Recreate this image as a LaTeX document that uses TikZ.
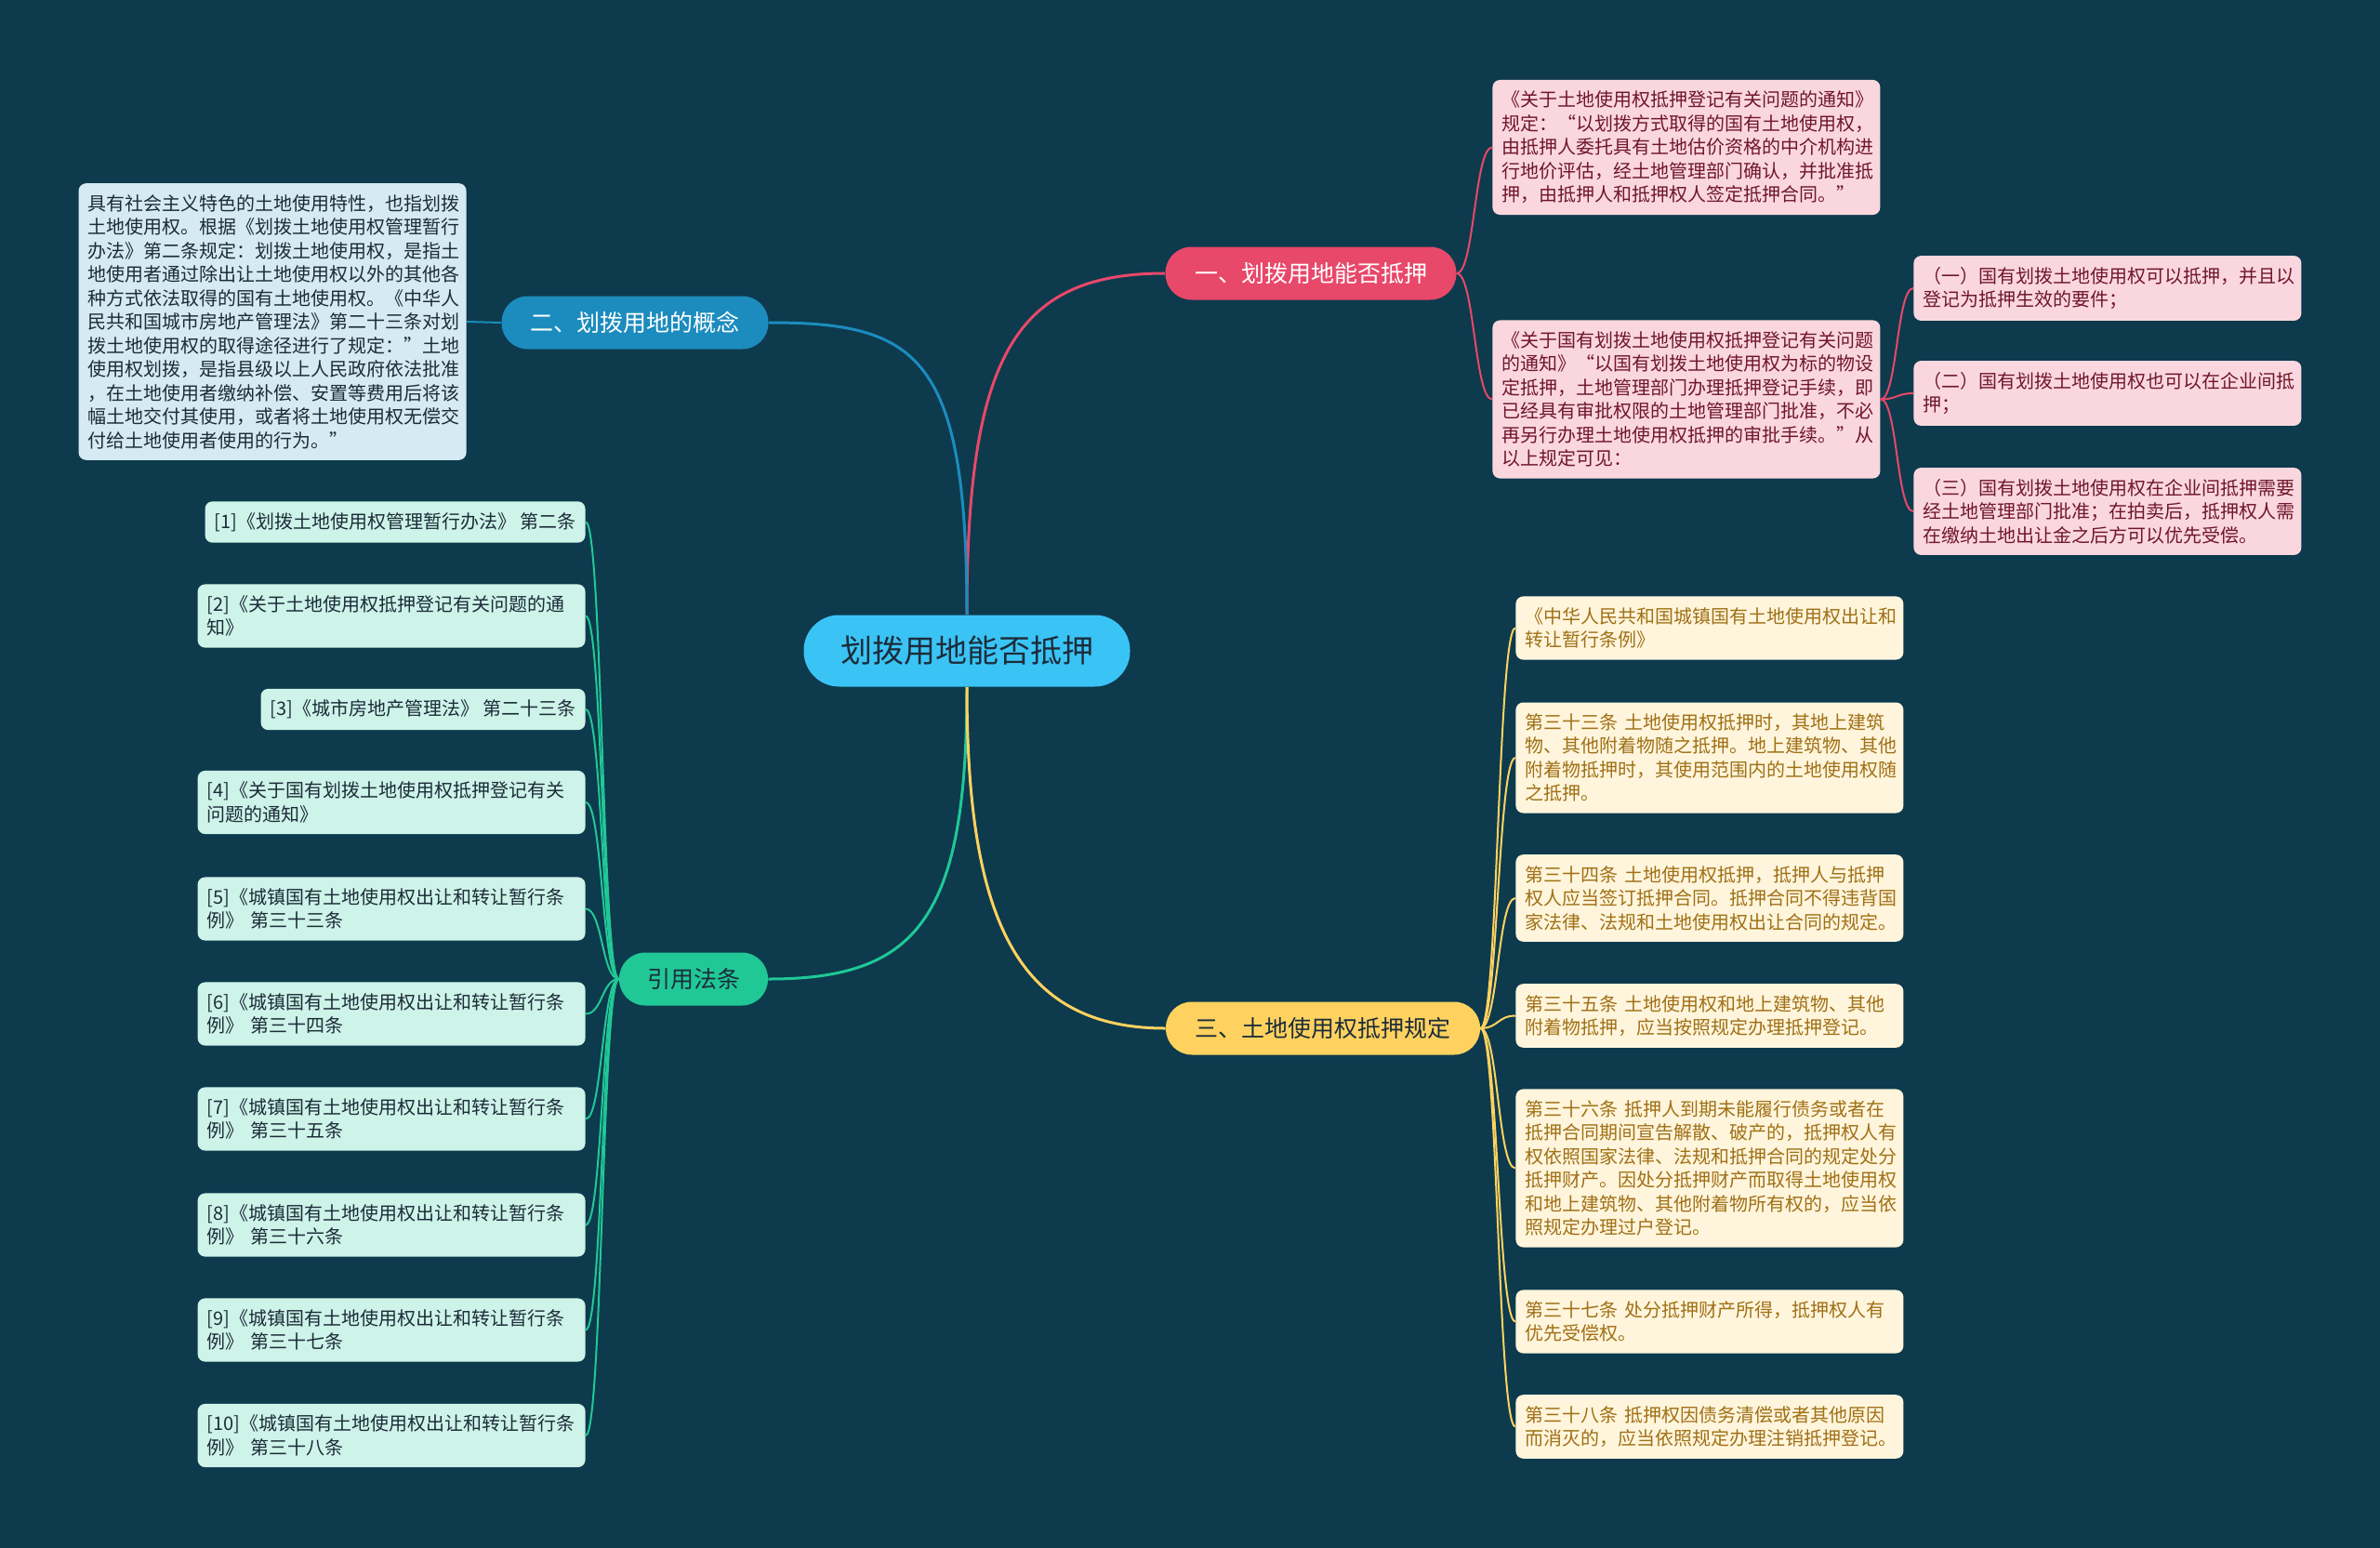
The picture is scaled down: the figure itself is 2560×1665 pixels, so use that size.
\documentclass[tikz,border=0pt]{standalone}
\usepackage{fontspec}
\setmainfont{Noto Sans CJK SC}
\usetikzlibrary{positioning}
\definecolor{night}{RGB}{13,58,77}
\definecolor{sky}{RGB}{58,196,245}
\definecolor{rose}{RGB}{232,72,106}
\definecolor{sea}{RGB}{28,140,190}
\definecolor{mint}{RGB}{32,200,150}
\definecolor{sun}{RGB}{255,210,95}
\definecolor{ink}{RGB}{28,44,58}
\definecolor{wine}{RGB}{112,22,44}
\definecolor{gold}{RGB}{160,112,22}
\newcommand\cardfont{\fontsize{10pt}{12.75pt}\selectfont}
\newcommand\dq{\symbol{34}}
\tikzset{
  hub/.style={fill=sky,text=ink,rounded corners=19pt,minimum width=175.5pt,
    minimum height=38.5pt,font=\fontsize{17pt}{20pt}\selectfont},
  branch/.style={fill=#1,rounded corners=14pt,minimum height=28.5pt,
    font=\fontsize{12.5pt}{15pt}\selectfont},
  card/.style={fill=#1,rounded corners=4pt,align=left,inner xsep=5pt,
    inner ysep=6pt,font=\cardfont},
  note/.style={card=#1,text width=198.5pt},
  link/.style={draw=#1,line width=1.5pt},
  twig/.style={draw=#1,line width=1pt},
}
\begin{document}
\begin{tikzpicture}[x=0.5pt,y=-0.5pt]
  \fill[night] (0,0) rectangle (2560,1665);
  \useasboundingbox (0,0) rectangle (2560,1665);

  \node[hub] (root) at (1040,700) {划拨用地能否抵押};

  \node[branch=rose,text=white,minimum width=156.5pt] (b1) at (1410,294) {一、划拨用地能否抵押};
  \node[branch=sea,text=white,minimum width=143.5pt] (b2) at (683,347) {二、划拨用地的概念};
  \node[branch=mint,text=ink,minimum width=80pt] (b3) at (746,1053) {引用法条};
  \node[branch=sun,text=ink,minimum width=169pt] (b4) at (1423,1106) {三、土地使用权抵押规定};

  \draw[link=rose] (root.north) .. controls +(0,-280) and +(-160,0) .. (b1.west);
  \draw[link=sea] (root.north) .. controls +(0,-280) and +(160,0) .. (b2.east);
  \draw[link=mint] (root.south) .. controls +(0,250) and +(160,0) .. (b3.east);
  \draw[link=sun] (root.south) .. controls +(0,250) and +(-160,0) .. (b4.west);

  % 一
  \node[note=rose!22!white,text=wine,anchor=west] (p1) at (1605,158.5)
    {《关于土地使用权抵押登记有关问题的通知》\\规定：“以划拨方式取得的国有土地使用权，\\由抵押人委托具有土地估价资格的中介机构进\\行地价评估，经土地管理部门确认，并批准抵\\押，由抵押人和抵押权人签定抵押合同。”};
  \node[note=rose!22!white,text=wine,anchor=west] (p2) at (1605,429.5)
    {《关于国有划拨土地使用权抵押登记有关问题\\的通知》“以国有划拨土地使用权为标的物设\\定抵押，土地管理部门办理抵押登记手续，即\\已经具有审批权限的土地管理部门批准，不必\\再另行办理土地使用权抵押的审批手续。”从\\以上规定可见：};
  \node[note=rose!22!white,text=wine,anchor=west] (s1) at (2058,310)
    {（一）国有划拨土地使用权可以抵押，并且以\\登记为抵押生效的要件；};
  \node[note=rose!22!white,text=wine,anchor=west] (s2) at (2058,423)
    {（二）国有划拨土地使用权也可以在企业间抵\\押；};
  \node[note=rose!22!white,text=wine,anchor=west] (s3) at (2058,550)
    {（三）国有划拨土地使用权在企业间抵押需要\\经土地管理部门批准；在拍卖后，抵押权人需\\在缴纳土地出让金之后方可以优先受偿。};
  \foreach \n in {p1,p2} \draw[twig=rose] (b1.east) .. controls +(19,0) and +(-19,0) .. (\n.west);
  \foreach \n in {s1,s2,s3} \draw[twig=rose] (p2.east) .. controls +(18,0) and +(-18,0) .. (\n.west);

  % 二
  \node[note=sea!18!white,text=ink,anchor=east] (d1) at (502,346)
    {具有社会主义特色的土地使用特性，也指划拨\\土地使用权。根据《划拨土地使用权管理暂行\\办法》第二条规定：划拨土地使用权，是指土\\地使用者通过除出让土地使用权以外的其他各\\种方式依法取得的国有土地使用权。《中华人\\民共和国城市房地产管理法》第二十三条对划\\拨土地使用权的取得途径进行了规定：\dq 土地\\使用权划拨，是指县级以上人民政府依法批准\\，在土地使用者缴纳补偿、安置等费用后将该\\幅土地交付其使用，或者将土地使用权无偿交\\付给土地使用者使用的行为。\dq};
  \draw[twig=sea] (b2.west) -- (d1.east);

  % 引用法条
  \node[card=mint!22!white,text=ink,anchor=east] (c1) at (630,561.5) {[1]《划拨土地使用权管理暂行办法》 第二条};
  \node[note=mint!22!white,text=ink,anchor=east] (c2) at (630,662.5) {[2]《关于土地使用权抵押登记有关问题的通\\知》};
  \node[card=mint!22!white,text=ink,anchor=east] (c3) at (630,763) {[3]《城市房地产管理法》 第二十三条};
  \node[note=mint!22!white,text=ink,anchor=east] (c4) at (630,863) {[4]《关于国有划拨土地使用权抵押登记有关\\问题的通知》};
  \node[note=mint!22!white,text=ink,anchor=east] (c5) at (630,977.5) {[5]《城镇国有土地使用权出让和转让暂行条\\例》 第三十三条};
  \node[note=mint!22!white,text=ink,anchor=east] (c6) at (630,1090.5) {[6]《城镇国有土地使用权出让和转让暂行条\\例》 第三十四条};
  \node[note=mint!22!white,text=ink,anchor=east] (c7) at (630,1203.5) {[7]《城镇国有土地使用权出让和转让暂行条\\例》 第三十五条};
  \node[note=mint!22!white,text=ink,anchor=east] (c8) at (630,1317.5) {[8]《城镇国有土地使用权出让和转让暂行条\\例》 第三十六条};
  \node[note=mint!22!white,text=ink,anchor=east] (c9) at (630,1430.5) {[9]《城镇国有土地使用权出让和转让暂行条\\例》 第三十七条};
  \node[note=mint!22!white,text=ink,anchor=east] (c10) at (630,1544) {[10]《城镇国有土地使用权出让和转让暂行条\\例》 第三十八条};
  \foreach \n in {c1,c2,c3,c4,c5,c6,c7,c8,c9,c10}
    \draw[twig=mint] (b3.west) .. controls +(-18,0) and +(18,0) .. (\n.east);

  % 三
  \node[note=sun!22!white,text=gold,anchor=west] (y1) at (1630,675.5)
    {《中华人民共和国城镇国有土地使用权出让和\\转让暂行条例》};
  \node[note=sun!22!white,text=gold,anchor=west] (y2) at (1630,815)
    {第三十三条 土地使用权抵押时，其地上建筑\\物、其他附着物随之抵押。地上建筑物、其他\\附着物抵押时，其使用范围内的土地使用权随\\之抵押。};
  \node[note=sun!22!white,text=gold,anchor=west] (y3) at (1630,966)
    {第三十四条 土地使用权抵押，抵押人与抵押\\权人应当签订抵押合同。抵押合同不得违背国\\家法律、法规和土地使用权出让合同的规定。};
  \node[note=sun!22!white,text=gold,anchor=west] (y4) at (1630,1092.5)
    {第三十五条 土地使用权和地上建筑物、其他\\附着物抵押，应当按照规定办理抵押登记。};
  \node[note=sun!22!white,text=gold,anchor=west] (y5) at (1630,1256.5)
    {第三十六条 抵押人到期未能履行债务或者在\\抵押合同期间宣告解散、破产的，抵押权人有\\权依照国家法律、法规和抵押合同的规定处分\\抵押财产。因处分抵押财产而取得土地使用权\\和地上建筑物、其他附着物所有权的，应当依\\照规定办理过户登记。};
  \node[note=sun!22!white,text=gold,anchor=west] (y6) at (1630,1421.5)
    {第三十七条 处分抵押财产所得，抵押权人有\\优先受偿权。};
  \node[note=sun!22!white,text=gold,anchor=west] (y7) at (1630,1534.5)
    {第三十八条 抵押权因债务清偿或者其他原因\\而消灭的，应当依照规定办理注销抵押登记。};
  \foreach \n in {y1,y2,y3,y4,y5,y6,y7}
    \draw[twig=sun] (b4.east) .. controls +(19,0) and +(-19,0) .. (\n.west);
\end{tikzpicture}
\end{document}
